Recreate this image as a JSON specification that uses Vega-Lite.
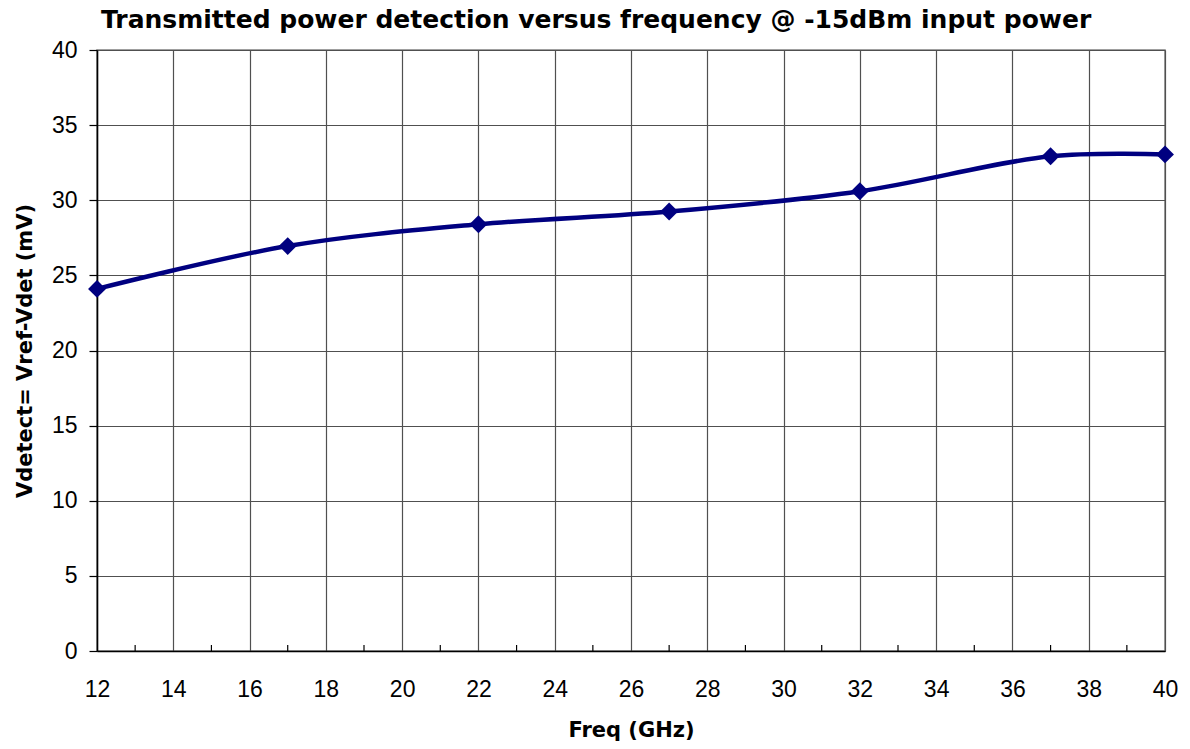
{
  "$schema": "https://vega.github.io/schema/vega-lite/v6.json",
  "width": 1068,
  "height": 601,
  "autosize": {"type": "none"},
  "padding": {"left": 97, "top": 50, "right": 25, "bottom": 98},
  "background": "white",
  "config": {
    "font": "Liberation Sans",
    "view": {"stroke": "#808080", "strokeWidth": 1.5}
  },
  "title": {
    "text": "Transmitted power detection versus frequency @ -15dBm input power",
    "fontSize": 25,
    "fontWeight": "bold",
    "font": "DejaVu Sans",
    "color": "black",
    "anchor": "middle",
    "frame": "bounds",
    "offset": 6
  },
  "datasets": {
    "pts": [
      {"freq": 12, "v": 24.1},
      {"freq": 17, "v": 26.95},
      {"freq": 22, "v": 28.4},
      {"freq": 27, "v": 29.25},
      {"freq": 32, "v": 30.6},
      {"freq": 37, "v": 32.93},
      {"freq": 40, "v": 33.05}
    ],
    "minor": [
      {"freq": 13, "y0": 0, "y1": 0.4},
      {"freq": 15, "y0": 0, "y1": 0.4},
      {"freq": 17, "y0": 0, "y1": 0.4},
      {"freq": 19, "y0": 0, "y1": 0.4},
      {"freq": 21, "y0": 0, "y1": 0.4},
      {"freq": 23, "y0": 0, "y1": 0.4},
      {"freq": 25, "y0": 0, "y1": 0.4},
      {"freq": 27, "y0": 0, "y1": 0.4},
      {"freq": 29, "y0": 0, "y1": 0.4},
      {"freq": 31, "y0": 0, "y1": 0.4},
      {"freq": 33, "y0": 0, "y1": 0.4},
      {"freq": 35, "y0": 0, "y1": 0.4},
      {"freq": 37, "y0": 0, "y1": 0.4},
      {"freq": 39, "y0": 0, "y1": 0.4}
    ]
  },
  "layer": [
    {
      "data": {"name": "minor"},
      "mark": {"type": "rule", "color": "black", "strokeWidth": 1.2},
      "encoding": {
        "x": {"field": "freq", "type": "quantitative", "scale": {"domain": [12, 40], "nice": false, "zero": false}},
        "y": {"field": "y0", "type": "quantitative", "scale": {"domain": [0, 40], "nice": false}},
        "y2": {"field": "y1"}
      }
    },
    {
      "data": {"name": "pts"},
      "mark": {"type": "line", "color": "#000080", "strokeWidth": 4.5, "interpolate": "catmull-rom"},
      "encoding": {
        "x": {
          "field": "freq", "type": "quantitative",
          "scale": {"domain": [12, 40], "nice": false, "zero": false},
          "axis": {
            "title": "Freq (GHz)",
            "values": [12,14,16,18,20,22,24,26,28,30,32,34,36,38,40],
            "grid": true, "gridColor": "#505050", "gridWidth": 1.2, "gridOpacity": 1,
            "domainColor": "black", "domainWidth": 1.5,
            "ticks": false,
            "labelFlush": false, "labelBound": false, "labelOverlap": false,
            "labelFontSize": 23, "labelColor": "black", "labelPadding": 27,
            "titleFont": "DejaVu Sans",
            "titleFontSize": 21, "titleFontWeight": "bold", "titleColor": "black", "titlePadding": 18
          }
        },
        "y": {
          "field": "v", "type": "quantitative",
          "scale": {"domain": [0, 40], "nice": false},
          "axis": {
            "title": "Vdetect= Vref-Vdet (mV)",
            "values": [0,5,10,15,20,25,30,35,40],
            "grid": true, "gridColor": "#505050", "gridWidth": 1.2, "gridOpacity": 1,
            "domainColor": "black", "domainWidth": 1.5,
            "ticks": true, "tickSize": 8, "tickColor": "black", "tickWidth": 1.2,
            "labelFlush": false, "labelBound": false, "labelOverlap": false,
            "labelFontSize": 23, "labelColor": "black", "labelPadding": 12,
            "titleFont": "DejaVu Sans",
            "titleFontSize": 21, "titleFontWeight": "bold", "titleColor": "black", "titlePadding": 16
          }
        }
      }
    },
    {
      "data": {"name": "pts"},
      "mark": {"type": "point", "shape": "diamond", "filled": true, "color": "#000080", "size": 320, "opacity": 1},
      "encoding": {
        "x": {"field": "freq", "type": "quantitative"},
        "y": {"field": "v", "type": "quantitative"}
      }
    }
  ]
}
